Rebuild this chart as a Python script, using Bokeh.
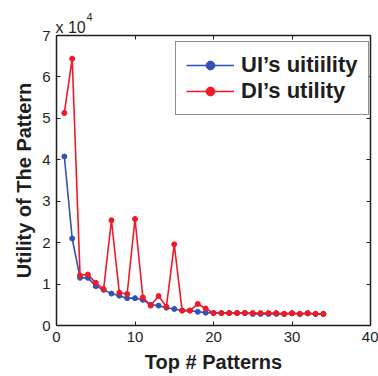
from bokeh.plotting import figure
from bokeh.models import Range1d, LinearAxis, Legend, LegendItem, Title, FixedTicker
from bokeh.embed import file_html
from bokeh.resources import INLINE

# Top # patterns (x) and utility values in units of 10^4
x_top = list(range(1, 35))
ui_utility = [4.08, 2.10, 1.15, 1.15, 0.95, 0.86, 0.77, 0.72, 0.66, 0.66,
              0.62, 0.50, 0.48, 0.43, 0.40, 0.36, 0.36, 0.33, 0.31, 0.30,
              0.30, 0.30, 0.30, 0.30, 0.28, 0.28, 0.28, 0.28, 0.28, 0.29,
              0.28, 0.29, 0.28, 0.28]
di_utility = [5.13, 6.44, 1.21, 1.23, 1.03, 0.88, 2.54, 0.79, 0.76, 2.57,
              0.68, 0.48, 0.71, 0.45, 1.96, 0.36, 0.36, 0.52, 0.41, 0.30,
              0.30, 0.30, 0.30, 0.30, 0.30, 0.30, 0.30, 0.30, 0.28, 0.30,
              0.28, 0.30, 0.28, 0.28]
x_ticks = [0, 10, 20, 30, 40]
y_ticks = [0, 1, 2, 3, 4, 5, 6, 7]
series_names = ["UI\u2019s uitiility", "DI\u2019s utility"]

BLUE = "#3352b5"
RED = "#ef1a26"
TXT = "#1e1e1e"
FONT = "Liberation Sans"

p = figure(width=378, height=376, output_backend="svg", toolbar_location=None,
           x_range=Range1d(0, 40), y_range=Range1d(0, 7),
           min_border_left=56, min_border_right=8, min_border_top=35,
           min_border_bottom=51)
p.grid.visible = False
p.outline_line_color = None

def style_axis(ax, labels=True):
    ax.axis_line_color = TXT
    ax.axis_line_width = 1.5
    ax.major_tick_line_color = TXT
    ax.major_tick_in = 4
    ax.major_tick_out = 0
    ax.minor_tick_line_color = None
    ax.major_label_text_font = FONT
    ax.major_label_text_font_size = "15px"
    ax.major_label_text_color = TXT
    if not labels:
        ax.major_label_text_alpha = 0
        ax.major_label_text_font_size = "1px"
        ax.major_label_standoff = 0

xa = p.xaxis[0]
ya = p.yaxis[0]
xa.ticker = FixedTicker(ticks=x_ticks)
ya.ticker = FixedTicker(ticks=y_ticks)
style_axis(xa)
style_axis(ya)
xa.major_label_standoff = 6
ya.major_label_standoff = 6
xa.axis_label = "Top # Patterns"
ya.axis_label = "Utility of The Pattern"
for ax in (xa, ya):
    ax.axis_label_text_font = FONT
    ax.axis_label_text_font_style = "bold"
    ax.axis_label_text_font_size = "20px"
    ax.axis_label_text_color = TXT
xa.axis_label_standoff = 6
ya.axis_label_standoff = 4

top = LinearAxis(ticker=FixedTicker(ticks=x_ticks))
right = LinearAxis(ticker=FixedTicker(ticks=y_ticks))
style_axis(top, labels=False)
style_axis(right, labels=False)
p.add_layout(top, "above")
p.add_layout(right, "right")

# exponent marker "x 10^4" above the y axis
p.add_layout(Title(text="x 10", align="left", offset=-1, text_font=FONT,
                   text_font_size="16px", text_font_style="normal",
                   text_color=TXT, standoff=0), "above")
p.add_layout(Title(text="4", align="left", offset=30, text_font=FONT,
                   text_font_size="11px", text_font_style="normal",
                   text_color=TXT, standoff=-8), "above")

l1 = p.line(x_top, ui_utility, line_color=BLUE, line_width=1.6)
s1 = p.scatter(x_top, ui_utility, size=5, fill_color=BLUE, line_color=BLUE)
l2 = p.line(x_top, di_utility, line_color=RED, line_width=1.6)
s2 = p.scatter(x_top, di_utility, size=5, fill_color=RED, line_color=RED)

legend = Legend(items=[LegendItem(label=series_names[0], renderers=[l1, s1]),
                       LegendItem(label=series_names[1], renderers=[l2, s2])],
                location=(119, 210))
legend.label_text_font = FONT
legend.label_text_font_style = "bold"
legend.label_text_font_size = "22px"
legend.label_text_color = TXT
legend.label_height = 22
legend.glyph_height = 22
legend.glyph_width = 48
legend.label_standoff = 7
legend.spacing = 0
legend.padding = 10
legend.margin = 0
legend.border_line_color = TXT
legend.border_line_width = 1.2
legend.background_fill_alpha = 1
p.add_layout(legend, "center")

open("out.html", "w").write(file_html(p, INLINE))
